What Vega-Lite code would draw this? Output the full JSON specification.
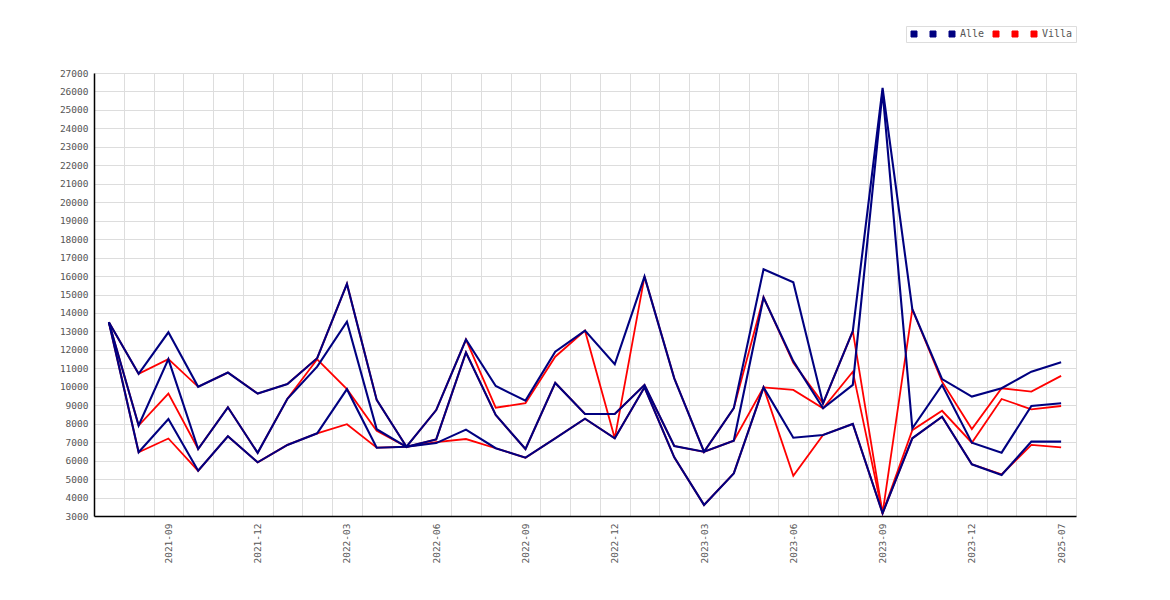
{
  "$schema": "https://vega.github.io/schema/vega-lite/v6.json",
  "width": 982,
  "height": 443,
  "autosize": {"type": "none"},
  "padding": {"left": 94, "top": 73, "right": 94, "bottom": 84},
  "background": "white",
  "config": {"view": {"stroke": null}, "font": "DejaVu Sans Mono"},
  "data": {
    "values": [
      {"m": "2021-07", "s": "a3", "v": 13500}, {"m": "2021-07", "s": "a2", "v": 13500}, {"m": "2021-07", "s": "a1", "v": 13500},
      {"m": "2021-07", "s": "v3", "v": 13500}, {"m": "2021-07", "s": "v2", "v": 13500}, {"m": "2021-07", "s": "v1", "v": 13500},
      {"m": "2021-08", "s": "a3", "v": 10700}, {"m": "2021-08", "s": "a2", "v": 7900}, {"m": "2021-08", "s": "a1", "v": 6450},
      {"m": "2021-08", "s": "v3", "v": 10700}, {"m": "2021-08", "s": "v2", "v": 7900}, {"m": "2021-08", "s": "v1", "v": 6450},
      {"m": "2021-09", "s": "a3", "v": 12950}, {"m": "2021-09", "s": "a2", "v": 11500}, {"m": "2021-09", "s": "a1", "v": 8250},
      {"m": "2021-09", "s": "v3", "v": 11500}, {"m": "2021-09", "s": "v2", "v": 9630}, {"m": "2021-09", "s": "v1", "v": 7200},
      {"m": "2021-10", "s": "a3", "v": 10000}, {"m": "2021-10", "s": "a2", "v": 6630}, {"m": "2021-10", "s": "a1", "v": 5450},
      {"m": "2021-10", "s": "v3", "v": 10000}, {"m": "2021-10", "s": "v2", "v": 6630}, {"m": "2021-10", "s": "v1", "v": 5450},
      {"m": "2021-11", "s": "a3", "v": 10770}, {"m": "2021-11", "s": "a2", "v": 8890}, {"m": "2021-11", "s": "a1", "v": 7320},
      {"m": "2021-11", "s": "v3", "v": 10770}, {"m": "2021-11", "s": "v2", "v": 8890}, {"m": "2021-11", "s": "v1", "v": 7320},
      {"m": "2021-12", "s": "a3", "v": 9630}, {"m": "2021-12", "s": "a2", "v": 6420}, {"m": "2021-12", "s": "a1", "v": 5910},
      {"m": "2021-12", "s": "v3", "v": 9630}, {"m": "2021-12", "s": "v2", "v": 6420}, {"m": "2021-12", "s": "v1", "v": 5910},
      {"m": "2022-01", "s": "a3", "v": 10150}, {"m": "2022-01", "s": "a2", "v": 9350}, {"m": "2022-01", "s": "a1", "v": 6850},
      {"m": "2022-01", "s": "v3", "v": 10150}, {"m": "2022-01", "s": "v2", "v": 9350}, {"m": "2022-01", "s": "v1", "v": 6850},
      {"m": "2022-02", "s": "a3", "v": 11550}, {"m": "2022-02", "s": "a2", "v": 11090}, {"m": "2022-02", "s": "a1", "v": 7480},
      {"m": "2022-02", "s": "v3", "v": 11550}, {"m": "2022-02", "s": "v2", "v": 11490}, {"m": "2022-02", "s": "v1", "v": 7480},
      {"m": "2022-03", "s": "a3", "v": 15570}, {"m": "2022-03", "s": "a2", "v": 13530}, {"m": "2022-03", "s": "a1", "v": 9870},
      {"m": "2022-03", "s": "v3", "v": 15570}, {"m": "2022-03", "s": "v2", "v": 9870}, {"m": "2022-03", "s": "v1", "v": 7970},
      {"m": "2022-04", "s": "a3", "v": 9290}, {"m": "2022-04", "s": "a2", "v": 7700}, {"m": "2022-04", "s": "a1", "v": 6700},
      {"m": "2022-04", "s": "v3", "v": 9290}, {"m": "2022-04", "s": "v2", "v": 7620}, {"m": "2022-04", "s": "v1", "v": 6700},
      {"m": "2022-05", "s": "a3", "v": 6750}, {"m": "2022-05", "s": "a2", "v": 6750}, {"m": "2022-05", "s": "a1", "v": 6750},
      {"m": "2022-05", "s": "v3", "v": 6750}, {"m": "2022-05", "s": "v2", "v": 6750}, {"m": "2022-05", "s": "v1", "v": 6750},
      {"m": "2022-06", "s": "a3", "v": 8740}, {"m": "2022-06", "s": "a2", "v": 7150}, {"m": "2022-06", "s": "a1", "v": 6950},
      {"m": "2022-06", "s": "v3", "v": 8740}, {"m": "2022-06", "s": "v2", "v": 7150}, {"m": "2022-06", "s": "v1", "v": 7000},
      {"m": "2022-07", "s": "a3", "v": 12560}, {"m": "2022-07", "s": "a2", "v": 11860}, {"m": "2022-07", "s": "a1", "v": 7680},
      {"m": "2022-07", "s": "v3", "v": 12560}, {"m": "2022-07", "s": "v2", "v": 11860}, {"m": "2022-07", "s": "v1", "v": 7170},
      {"m": "2022-08", "s": "a3", "v": 10040}, {"m": "2022-08", "s": "a2", "v": 8470}, {"m": "2022-08", "s": "a1", "v": 6670},
      {"m": "2022-08", "s": "v3", "v": 8870}, {"m": "2022-08", "s": "v2", "v": 8470}, {"m": "2022-08", "s": "v1", "v": 6670},
      {"m": "2022-09", "s": "a3", "v": 9250}, {"m": "2022-09", "s": "a2", "v": 6630}, {"m": "2022-09", "s": "a1", "v": 6160},
      {"m": "2022-09", "s": "v3", "v": 9110}, {"m": "2022-09", "s": "v2", "v": 6630}, {"m": "2022-09", "s": "v1", "v": 6160},
      {"m": "2022-10", "s": "a3", "v": 11900}, {"m": "2022-10", "s": "a2", "v": 10210}, {"m": "2022-10", "s": "a1", "v": 7210},
      {"m": "2022-10", "s": "v3", "v": 11630}, {"m": "2022-10", "s": "v2", "v": 10210}, {"m": "2022-10", "s": "v1", "v": 7210},
      {"m": "2022-11", "s": "a3", "v": 13040}, {"m": "2022-11", "s": "a2", "v": 8530}, {"m": "2022-11", "s": "a1", "v": 8270},
      {"m": "2022-11", "s": "v3", "v": 13040}, {"m": "2022-11", "s": "v2", "v": 8530}, {"m": "2022-11", "s": "v1", "v": 8270},
      {"m": "2022-12", "s": "a3", "v": 11220}, {"m": "2022-12", "s": "a2", "v": 8530}, {"m": "2022-12", "s": "a1", "v": 7210},
      {"m": "2022-12", "s": "v3", "v": 7210}, {"m": "2022-12", "s": "v2", "v": 8530}, {"m": "2022-12", "s": "v1", "v": 7210},
      {"m": "2023-01", "s": "a3", "v": 15970}, {"m": "2023-01", "s": "a2", "v": 10100}, {"m": "2023-01", "s": "a1", "v": 9970},
      {"m": "2023-01", "s": "v3", "v": 15970}, {"m": "2023-01", "s": "v2", "v": 10100}, {"m": "2023-01", "s": "v1", "v": 9970},
      {"m": "2023-02", "s": "a3", "v": 10460}, {"m": "2023-02", "s": "a2", "v": 6790}, {"m": "2023-02", "s": "a1", "v": 6180},
      {"m": "2023-02", "s": "v3", "v": 10460}, {"m": "2023-02", "s": "v2", "v": 6790}, {"m": "2023-02", "s": "v1", "v": 6180},
      {"m": "2023-03", "s": "a3", "v": 6480}, {"m": "2023-03", "s": "a2", "v": 6480}, {"m": "2023-03", "s": "a1", "v": 3600},
      {"m": "2023-03", "s": "v3", "v": 6480}, {"m": "2023-03", "s": "v2", "v": 6480}, {"m": "2023-03", "s": "v1", "v": 3600},
      {"m": "2023-04", "s": "a3", "v": 8840}, {"m": "2023-04", "s": "a2", "v": 7080}, {"m": "2023-04", "s": "a1", "v": 5310},
      {"m": "2023-04", "s": "v3", "v": 8840}, {"m": "2023-04", "s": "v2", "v": 7080}, {"m": "2023-04", "s": "v1", "v": 5310},
      {"m": "2023-05", "s": "a3", "v": 16370}, {"m": "2023-05", "s": "a2", "v": 14830}, {"m": "2023-05", "s": "a1", "v": 9970},
      {"m": "2023-05", "s": "v3", "v": 14850}, {"m": "2023-05", "s": "v2", "v": 9970}, {"m": "2023-05", "s": "v1", "v": 9970},
      {"m": "2023-06", "s": "a3", "v": 15660}, {"m": "2023-06", "s": "a2", "v": 11390}, {"m": "2023-06", "s": "a1", "v": 7240},
      {"m": "2023-06", "s": "v3", "v": 11300}, {"m": "2023-06", "s": "v2", "v": 9830}, {"m": "2023-06", "s": "v1", "v": 5180},
      {"m": "2023-07", "s": "a3", "v": 9100}, {"m": "2023-07", "s": "a2", "v": 8840}, {"m": "2023-07", "s": "a1", "v": 7390},
      {"m": "2023-07", "s": "v3", "v": 9100}, {"m": "2023-07", "s": "v2", "v": 8840}, {"m": "2023-07", "s": "v1", "v": 7390},
      {"m": "2023-08", "s": "a3", "v": 13020}, {"m": "2023-08", "s": "a2", "v": 10100}, {"m": "2023-08", "s": "a1", "v": 7990},
      {"m": "2023-08", "s": "v3", "v": 13020}, {"m": "2023-08", "s": "v2", "v": 10820}, {"m": "2023-08", "s": "v1", "v": 7990},
      {"m": "2023-09", "s": "a3", "v": 26200}, {"m": "2023-09", "s": "a2", "v": 26000}, {"m": "2023-09", "s": "a1", "v": 3150},
      {"m": "2023-09", "s": "v3", "v": 3150}, {"m": "2023-09", "s": "v2", "v": 3150}, {"m": "2023-09", "s": "v1", "v": 3150},
      {"m": "2023-10", "s": "a3", "v": 14200}, {"m": "2023-10", "s": "a2", "v": 7750}, {"m": "2023-10", "s": "a1", "v": 7210},
      {"m": "2023-10", "s": "v3", "v": 14200}, {"m": "2023-10", "s": "v2", "v": 7650}, {"m": "2023-10", "s": "v1", "v": 7210},
      {"m": "2023-11", "s": "a3", "v": 10420}, {"m": "2023-11", "s": "a2", "v": 10100}, {"m": "2023-11", "s": "a1", "v": 8380},
      {"m": "2023-11", "s": "v3", "v": 10280}, {"m": "2023-11", "s": "v2", "v": 8700}, {"m": "2023-11", "s": "v1", "v": 8380},
      {"m": "2023-12", "s": "a3", "v": 9470}, {"m": "2023-12", "s": "a2", "v": 6970}, {"m": "2023-12", "s": "a1", "v": 5800},
      {"m": "2023-12", "s": "v3", "v": 7710}, {"m": "2023-12", "s": "v2", "v": 6970}, {"m": "2023-12", "s": "v1", "v": 5800},
      {"m": "2024-06", "s": "a3", "v": 9920}, {"m": "2024-06", "s": "a2", "v": 6430}, {"m": "2024-06", "s": "a1", "v": 5220},
      {"m": "2024-06", "s": "v3", "v": 9920}, {"m": "2024-06", "s": "v2", "v": 9340}, {"m": "2024-06", "s": "v1", "v": 5250},
      {"m": "2025-01", "s": "a3", "v": 10820}, {"m": "2025-01", "s": "a2", "v": 8960}, {"m": "2025-01", "s": "a1", "v": 7030},
      {"m": "2025-01", "s": "v3", "v": 9740}, {"m": "2025-01", "s": "v2", "v": 8780}, {"m": "2025-01", "s": "v1", "v": 6850},
      {"m": "2025-07", "s": "a3", "v": 11330}, {"m": "2025-07", "s": "a2", "v": 9110}, {"m": "2025-07", "s": "a1", "v": 7030},
      {"m": "2025-07", "s": "v3", "v": 10590}, {"m": "2025-07", "s": "v2", "v": 8960}, {"m": "2025-07", "s": "v1", "v": 6720}
    ]
  },
  "encoding": {
    "x": {
      "field": "m",
      "type": "ordinal",
      "scale": {"type": "band", "paddingInner": 0, "paddingOuter": 0},
      "axis": {
        "title": null,
        "tickBand": "extent",
        "grid": true,
        "gridColor": "#dddddd",
        "gridWidth": 1,
        "ticks": false,
        "domainColor": "#000000",
        "domainWidth": 1.5,
        "labelAngle": 270,
        "labelAlign": "right",
        "labelBaseline": "middle",
        "labelPadding": 7,
        "labelOverlap": false,
        "labelFont": "DejaVu Sans Mono",
        "labelFontSize": 9.5,
        "labelColor": "#555555",
        "labelExpr": "indexof(['2021-09','2021-12','2022-03','2022-06','2022-09','2022-12','2023-03','2023-06','2023-09','2023-12','2025-07'], datum.value) >= 0 ? datum.value : ''"
      }
    },
    "y": {
      "field": "v",
      "type": "quantitative",
      "scale": {"domain": [3000, 27000], "nice": false, "zero": false},
      "axis": {
        "title": null,
        "values": [3000, 4000, 5000, 6000, 7000, 8000, 9000, 10000, 11000, 12000, 13000, 14000, 15000, 16000, 17000, 18000, 19000, 20000, 21000, 22000, 23000, 24000, 25000, 26000, 27000],
        "format": "d",
        "grid": true,
        "gridColor": "#dddddd",
        "gridWidth": 1,
        "ticks": false,
        "domainColor": "#000000",
        "domainWidth": 1.5,
        "labelPadding": 6,
        "labelFont": "DejaVu Sans Mono",
        "labelFontSize": 9.5,
        "labelColor": "#555555"
      }
    },
    "color": {
      "field": "s",
      "type": "nominal",
      "scale": {
        "domain": ["a1", "a2", "a3", "v1", "v2", "v3"],
        "range": ["#000080", "#000080", "#000080", "#ff0000", "#ff0000", "#ff0000"]
      },
      "legend": {
        "title": null,
        "orient": "none",
        "legendX": 812,
        "legendY": -47,
        "direction": "horizontal",
        "fillColor": "#ffffff",
        "strokeColor": "#dddddd",
        "padding": 3,
        "symbolType": "square",
        "symbolSize": 36,
        "labelFont": "DejaVu Sans Mono",
        "labelFontSize": 10,
        "labelColor": "#555555",
        "labelOffset": 3,
        "columnPadding": 6,
        "labelExpr": "datum.value == 'a3' ? 'Alle' : datum.value == 'v3' ? 'Villa' : ' '",
        "encode": {
          "symbols": {
            "update": {
              "fill": {"scale": "color", "field": "value"},
              "stroke": {"value": "#666666"},
              "strokeWidth": {"value": 1},
              "opacity": {"value": 1}
            }
          }
        }
      }
    }
  },
  "layer": [
    {
      "transform": [{"filter": {"field": "s", "oneOf": ["v1", "v2", "v3"]}}],
      "mark": {"type": "line", "strokeWidth": 1.8}
    },
    {
      "transform": [{"filter": {"field": "s", "oneOf": ["a1", "a2", "a3"]}}],
      "mark": {"type": "line", "strokeWidth": 2.1}
    }
  ]
}
